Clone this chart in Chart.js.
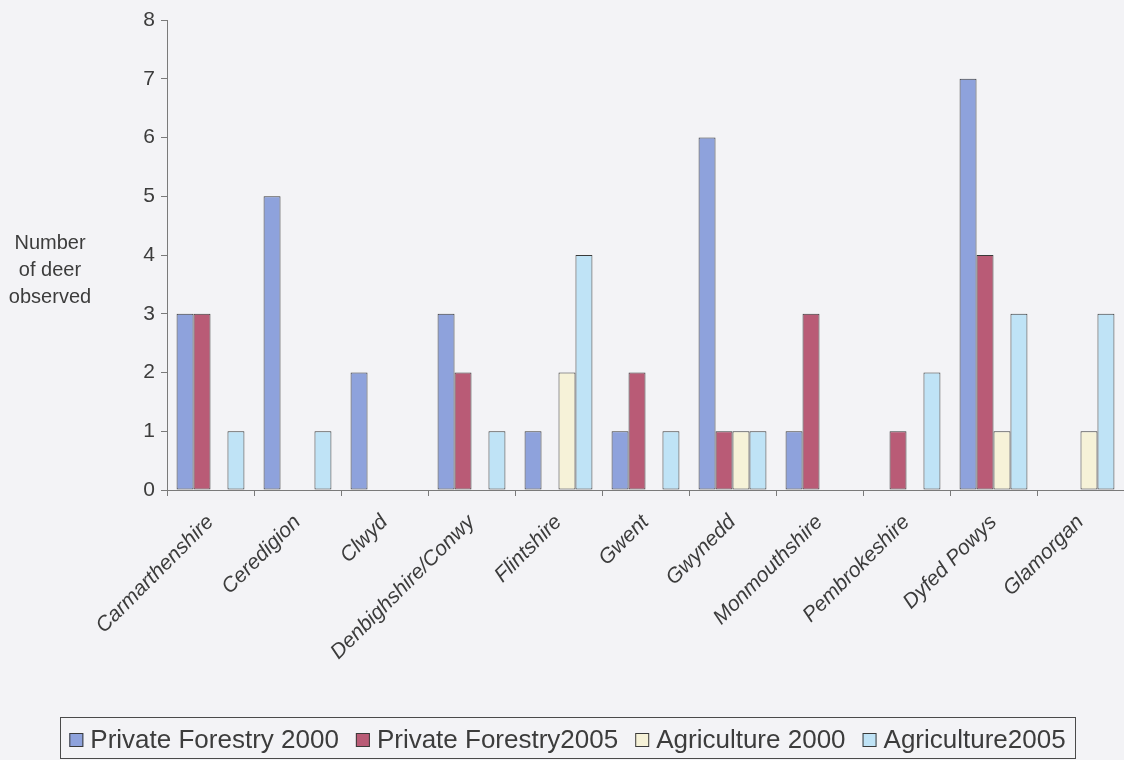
<!DOCTYPE html>
<html>
<head>
<meta charset="utf-8">
<title>Deer observed by region</title>
<script src="https://cdn.jsdelivr.net/npm/chart.js@4.4.0/dist/chart.umd.min.js"></script>
<style>
  html, body { margin: 0; padding: 0; background: #f3f3f6; }
  #wrap { width: 1124px; height: 760px; position: relative; }
</style>
</head>
<body>
<div id="wrap"><canvas id="deerChart" width="1124" height="760"></canvas></div>
<script>
// 数据
const regions = ['Carmarthenshire', 'Ceredigion', 'Clwyd', 'Denbighshire/Conwy', 'Flintshire', 'Gwent',
                 'Gwynedd', 'Monmouthshire', 'Pembrokeshire', 'Dyfed Powys', 'Glamorgan'];
const forestry2000    = [3, 5, 2, 3, 1, 1, 6, 1, 0, 7, 0];
const forestry2005    = [3, 0, 0, 2, 0, 2, 1, 3, 1, 4, 0];
const agriculture2000 = [0, 0, 0, 0, 2, 0, 1, 0, 0, 1, 1];
const agriculture2005 = [1, 1, 0, 1, 4, 1, 1, 0, 2, 3, 3];
const seriesNames = ['Private Forestry 2000', 'Private Forestry2005', 'Agriculture 2000', 'Agriculture2005'];
const yMin = 0, yMax = 8, yStep = 1;
const yTitle = ['Number', 'of deer', 'observed'];

const FONT = '"Liberation Sans", Arial, sans-serif';
const textColor = '#3c3c3c';
const edgeColor = '#3a3a3a';
const axisColor = '#7a7a7a';

const makeSet = (label, data, color) => ({
    label: label,
    data: data,
    backgroundColor: color,
    borderColor: edgeColor,
    borderWidth: 1,
    borderSkipped: false
});

// y轴标题和带边框的图例
const sideText = {
    id: 'sideText',
    afterDraw(chart) {
        const ctx = chart.ctx;
        ctx.save();
        ctx.fillStyle = textColor;
        ctx.font = '20px ' + FONT;
        ctx.textAlign = 'center';
        ctx.textBaseline = 'alphabetic';
        yTitle.forEach((line, i) => ctx.fillText(line, 50, 249 + i * 27));

        // legend
        ctx.font = '26px ' + FONT;
        const box = 14, gap = 7, between = 17;
        const sets = chart.data.datasets;
        const widths = sets.map(ds => ctx.measureText(ds.label).width);
        const total = widths.reduce((s, w) => s + box + gap + w, 0) + between * (sets.length - 1);
        const left = 60, right = 1075, top = 717, bottom = 758;
        let x = (left + right) / 2 - total / 2;
        ctx.strokeStyle = '#4a4a4a';
        ctx.lineWidth = 1;
        ctx.strokeRect(left + 0.5, top + 0.5, right - left, bottom - top);
        ctx.textAlign = 'left';
        sets.forEach((ds, i) => {
            ctx.fillStyle = ds.backgroundColor;
            ctx.fillRect(x, 733, box, box);
            ctx.strokeStyle = edgeColor;
            ctx.strokeRect(x + 0.5, 733.5, box - 1, box - 1);
            ctx.fillStyle = textColor;
            ctx.fillText(ds.label, x + box + gap, 748);
            x += box + gap + widths[i] + between;
        });
        ctx.restore();
    }
};

new Chart(document.getElementById('deerChart'), {
    type: 'bar',
    data: {
        labels: regions,
        datasets: [
            makeSet(seriesNames[0], forestry2000, '#8ea2dc'),
            makeSet(seriesNames[1], forestry2005, '#b95b76'),
            makeSet(seriesNames[2], agriculture2000, '#f6f2d8'),
            makeSet(seriesNames[3], agriculture2005, '#bfe3f6')
        ]
    },
    options: {
        responsive: false,
        animation: false,
        layout: { padding: { top: 20, right: 0, bottom: 0, left: 0 } },
        categoryPercentage: 0.78,
        barPercentage: 1.0,
        plugins: {
            legend: { display: false },
            tooltip: { enabled: false }
        },
        scales: {
            x: {
                grid: { drawOnChartArea: false, offset: true, tickLength: 6, color: axisColor },
                border: { color: axisColor, width: 1 },
                ticks: {
                    color: textColor,
                    font: { family: FONT, size: 21, style: 'italic' },
                    minRotation: 45,
                    maxRotation: 45,
                    padding: 14,
                    autoSkip: false
                },
                afterFit(scale) { scale.height = 270; }
            },
            y: {
                min: yMin,
                max: yMax,
                grid: { drawOnChartArea: false, tickLength: 6, color: axisColor },
                border: { color: axisColor, width: 1 },
                ticks: {
                    stepSize: yStep,
                    color: textColor,
                    padding: 6,
                    font: { family: FONT, size: 21 }
                },
                afterFit(scale) { scale.width = 167; }
            }
        }
    },
    plugins: [sideText]
});
</script>
</body>
</html>
